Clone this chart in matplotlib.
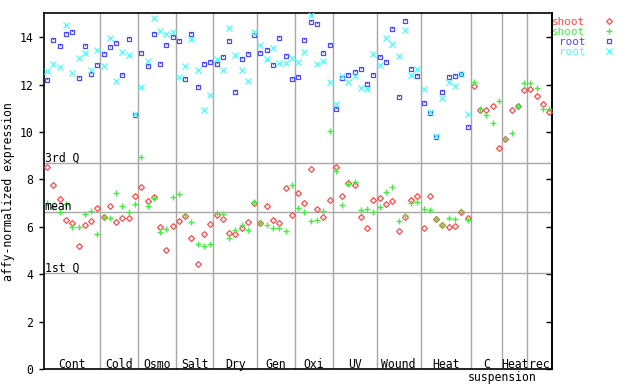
import numpy as np
import matplotlib
matplotlib.use("Agg")
import matplotlib.pyplot as plt
import matplotlib.transforms as mtransforms
from matplotlib.lines import Line2D

nan = np.nan

groups = ["Cont", "Cold", "Osmo", "Salt", "Dry", "Gen", "Oxi", "UV", "Wound", "Heat", "C", "Heat", "rec"]
group_sizes = [9, 6, 6, 6, 7, 6, 6, 7, 7, 8, 5, 4, 4]
extra_label = "suspension"

shoot_1 = [8.51, 7.77, 7.18, 6.28, 6.17, 5.18, 6.07, 6.25, 6.80,
           6.42, 6.87, 6.21, 6.36, 6.36, 7.29,
           7.67, 7.09, 7.26, 6.00, 5.03, 6.04,
           6.24, 6.45, 5.52, 4.42, 5.69, 6.11,
           6.50, 6.32, 5.73, 5.69, 5.94, 6.19, 6.99,
           6.15, 6.87, 6.28, 6.15, 7.63, 6.49,
           7.42, 6.99, 8.43, 6.74, 6.40, 7.12,
           8.52, 7.29, 7.84, 7.75, 6.40, 5.94, 7.12,
           7.20, 6.95, 7.08, 5.81, 6.40, 7.12, 7.29,
           5.94, 7.29, 6.32, 6.07, 5.98, 6.03, 6.61, 6.36,
           11.92, 10.93, 10.93, 11.08, 9.31,
           9.69, 10.93, 11.08, 11.76,
           11.80, 11.50, 11.17, 10.83]

shoot_2 = [7.01, 6.85, 6.61, 6.97, 5.99, 5.99, 6.53, 6.66, 5.69,
           6.43, 6.36, 7.42, 6.88, 6.63, 6.95,
           8.95, 6.90, 7.22, 5.77, 5.90, 7.25,
           7.39, 6.52, 6.19, 5.27, 5.18, 5.27,
           6.59, 6.53, 5.52, 5.86, 6.07, 5.86, 7.04,
           6.15, 6.07, 5.94, 5.94, 5.81, 7.77,
           6.78, 6.61, 6.24, 6.28, 6.66, 10.03,
           8.34, 6.91, 7.79, 7.88, 6.70, 6.74, 6.61,
           6.83, 7.46, 7.67, 6.24, 6.49, 6.99, 7.04,
           6.74, 6.70, 6.32, 6.07, 6.36, 6.32, 6.66, 6.28,
           12.11, 10.95, 10.70, 10.36, 11.31,
           9.69, 9.94, 11.08, 12.05,
           12.05, 11.84, 10.95, 10.98]

root_1 = [12.18, 13.88, 13.62, 14.11, 14.20, 12.26, 13.62, 12.43, 12.82,
          13.29, 13.58, 13.74, 12.40, 13.90, 10.73,
          13.31, 12.77, 14.11, 12.85, 13.65, 13.99,
          13.82, 12.22, 14.11, 11.88, 12.85, 12.93,
          12.85, 13.15, 13.82, 11.67, 13.06, 13.27, 14.07,
          13.31, 13.44, 12.81, 13.95, 13.19, 12.22,
          12.30, 13.86, 14.62, 14.54, 13.31, 13.65,
          10.98, 12.26, 12.39, 12.51, 12.64, 12.01, 12.39,
          13.15, 12.93, 14.33, 11.46, 14.66, 12.64, 12.34,
          11.21, 10.81, 9.80, 11.67, 12.30, 12.34, 12.43, 10.20,
          nan, nan, nan, nan, nan,
          nan, nan, nan, nan,
          nan, nan, nan, nan]

root_2 = [12.57, 12.86, 12.74, 14.49, 12.49, 13.12, 13.33, 12.61, 13.44,
          12.78, 13.95, 12.15, 13.37, 13.24, 10.75,
          11.88, 12.98, 14.79, 14.24, 14.11, 14.20,
          12.30, 12.77, 13.90, 12.60, 10.91, 11.54,
          13.08, 12.60, 14.37, 13.23, 12.60, 12.13, 14.20,
          13.65, 13.06, 13.52, 12.89, 12.89, 13.10,
          12.93, 13.36, 14.92, 12.85, 12.98, 12.09,
          11.17, 12.34, 12.09, 12.34, 11.84, 11.80, 13.27,
          12.81, 13.95, 13.69, 13.19, 14.28, 12.39, 12.64,
          11.80, 10.85, 9.82, 11.45, 12.09, 11.92, 12.45, 10.74,
          nan, nan, nan, nan, nan,
          nan, nan, nan, nan,
          nan, nan, nan, nan]

q3_value = 8.68
mean_value = 6.63
q1_value = 4.07
yticks = [0, 2, 4, 6, 8, 10, 12, 14]

FONT = "DejaVu Sans Mono"
FS = 8.3
RED = "#ff4848"
GREEN = "#44ee44"
BLUE = "#4848ff"
CYAN = "#44ffff"
GRID = "#a8a8a8"

fig = plt.figure(figsize=(6.4, 3.84), dpi=100)
ax = fig.add_axes([44 / 640, 1 - 369.3 / 384, (552.3 - 44) / 640, (369.3 - 13.3) / 384])

n = len(shoot_1)
x = np.arange(n) + 0.5
ax.set_xlim(0, n)
ax.set_ylim(0, 15)

# separators
bounds = np.cumsum(group_sizes)[:-1]
for b in bounds:
    ax.axvline(b, color=GRID, lw=1.0, zorder=1)
for v in (q3_value, mean_value, q1_value):
    ax.axhline(v, color=GRID, lw=1.0, zorder=1)

ax.plot(x, root_1, ls="none", marker="s", ms=3.4, mfc="none", mec=BLUE, mew=0.9, zorder=3)
ax.plot(x, root_1, ls="none", marker=",", color=BLUE, zorder=3)
ax.plot(x, root_2, ls="none", marker="x", ms=4.2, mec=CYAN, mew=0.9, zorder=3)
ax.plot(x, shoot_1, ls="none", marker="D", ms=3.0, mfc="none", mec=RED, mew=0.9, zorder=4)
ax.plot(x, shoot_2, ls="none", marker="+", ms=5.0, mec=GREEN, mew=1.0, zorder=4)

# quartile labels
for v, lab in ((q3_value, "3rd Q"), (mean_value, "mean"), (q1_value, "1st Q")):
    ax.text(0.1, v, lab, fontfamily=FONT, fontsize=FS, ha="left", va="baseline",
            transform=ax.transData + mtransforms.ScaledTranslation(0, 1.5 / 100, fig.dpi_scale_trans), zorder=5)

# group labels inside bottom of axes
trans = mtransforms.blended_transform_factory(ax.transData, ax.transAxes)
off = mtransforms.ScaledTranslation(0, 1.5 / 100, fig.dpi_scale_trans)
start = 0
for g, s in zip(groups, group_sizes):
    ax.text(start + s / 2, 0, g, fontfamily=FONT, fontsize=FS, ha="center", va="baseline",
            transform=trans + off, zorder=5)
    start += s
ax.text(73, 0, extra_label, fontfamily=FONT, fontsize=FS, ha="center", va="top",
        transform=trans + mtransforms.ScaledTranslation(0, -2 / 100, fig.dpi_scale_trans))

ax.set_xticks([])
ax.set_yticks(yticks)
ax.set_yticklabels([str(t) for t in yticks], fontfamily=FONT, fontsize=FS)
ax.tick_params(axis="y", direction="out", length=3.6, width=1, pad=4.3)
for sp in ax.spines.values():
    sp.set_color("black")
    sp.set_linewidth(1.2)

sec = ax.secondary_yaxis("right")
sec.set_yticks(yticks)
sec.tick_params(direction="in", length=4.2, width=1, labelright=False)
sec.spines["right"].set_linewidth(1.2)

ax.set_ylabel("affy-normalized expression", fontfamily=FONT, fontsize=FS)
ax.yaxis.set_label_coords(-0.058, 0.5)

handles = [
    Line2D([], [], ls="none", marker="D", ms=3.0, mfc="none", mec=RED, mew=0.9),
    Line2D([], [], ls="none", marker="+", ms=5.0, mec=GREEN, mew=1.0),
    Line2D([], [], ls="none", marker="s", ms=3.4, mfc="none", mec=BLUE, mew=0.9),
    Line2D([], [], ls="none", marker="x", ms=4.2, mec=CYAN, mew=0.9),
]
labels = ["shoot", "shoot", "root", "root"]
leg = fig.legend(handles, labels, loc="upper left", bbox_to_anchor=(552 / 640, 1 - 17 / 384),
                 frameon=False, markerfirst=False, borderpad=0, borderaxespad=0,
                 handlelength=1.0, handletextpad=1.7, labelspacing=0.0,
                 prop={"family": FONT, "size": 7.9})
for t, c in zip(leg.get_texts(), [RED, GREEN, BLUE, CYAN]):
    t.set_color(c)

fig.savefig("out.png", dpi=100)
